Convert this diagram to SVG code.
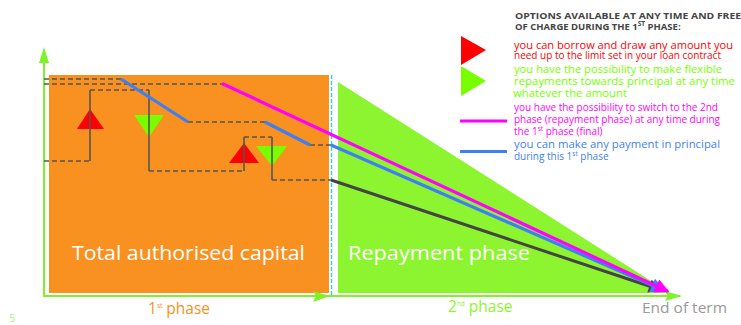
<svg xmlns="http://www.w3.org/2000/svg" width="741" height="325" viewBox="0 0 741 325">
  <style>
    text { font-family: "Open Sans", "Liberation Sans", sans-serif; }
    .dash { fill: none; stroke: #555555; stroke-width: 1.6; stroke-dasharray: 5 3; }
    .solid { fill: none; stroke: #555555; stroke-width: 1.6; }
    .blue { fill: none; stroke: #3F7FF5; stroke-width: 3.2; stroke-linejoin: round; }
    .mag { fill: none; stroke: #FF00FF; stroke-width: 3.2; }
    .dark { fill: none; stroke: #444444; stroke-width: 3; }
    .axis { fill: none; stroke: #7FF22A; stroke-width: 2; }
    .big { font-size: 19.5px; fill: #ffffff; }
    .leg { font-size: 10px; }
    .sup { font-size: 6.5px; }
  </style>
  <defs>
    <marker id="arrMag" viewBox="0 0 10 10" refX="9" refY="5" markerWidth="6" markerHeight="4.5" markerUnits="strokeWidth" orient="auto">
      <path d="M0 0 L10 5 L0 10 Z" fill="#FF00FF"/>
    </marker>
    <marker id="arrBlue" viewBox="0 0 10 10" refX="9" refY="5" markerWidth="6" markerHeight="4.5" markerUnits="strokeWidth" orient="auto">
      <path d="M0 0 L10 5 L0 10 Z" fill="#3F7FF5"/>
    </marker>
    <marker id="arrDark" viewBox="0 0 10 10" refX="9" refY="5" markerWidth="6" markerHeight="4.5" markerUnits="strokeWidth" orient="auto">
      <path d="M0 0 L10 5 L0 10 Z" fill="#444444"/>
    </marker>
  </defs>

  <rect width="741" height="325" fill="#ffffff"/>

  <!-- first phase: authorised capital block -->
  <g id="phase1">
    <rect x="49" y="75" width="280" height="218" fill="#F8911F"/>
    <text class="big" x="72" y="260" textLength="233" lengthAdjust="spacingAndGlyphs">Total authorised capital</text>
  </g>

  <!-- second phase: repayment triangle -->
  <g id="phase2">
    <polygon points="338,82 670,293 338,293" fill="#8DF52F"/>
    <text class="big" x="348" y="260" textLength="182" lengthAdjust="spacingAndGlyphs">Repayment phase</text>
  </g>

  <!-- axes -->
  <g id="axes">
    <polyline class="axis" points="44,62 44,296 680,296"/>
    <polygon points="44,47 39,63 49,63" fill="#7FF22A"/>
    <polygon points="330,296 313,291 316,296 313,302" fill="#7FF22A"/>
    <polygon points="682,296 665,291 668,296 665,301" fill="#7FF22A"/>
    <line x1="331.5" y1="75" x2="331.5" y2="296" stroke="#22D6E8" stroke-width="1.4" stroke-dasharray="4 2"/>
  </g>

  <!-- options inside the first phase -->
  <g id="options">
    <polygon points="90,109 77,129 104,129" fill="#FF0000"/>
    <polygon points="134,115 164,115 149,137" fill="#77FF00"/>
    <polygon points="244,143 229,163 259,163" fill="#FF0000"/>
    <polygon points="256,146 287,146 272,166" fill="#77FF00"/>
  </g>

  <!-- balance paths -->
  <g id="connectors">
    <polyline class="dash" points="44,79 121,79"/>
    <polyline class="dash" points="44,84 222,84"/>
    <polyline class="dash" points="44,161 90,161"/>
    <polyline class="solid" points="90,161 90,90"/>
    <polyline class="dash" points="90,90 149,90"/>
    <polyline class="solid" points="149,90 149,171"/>
    <polyline class="dash" points="149,171 244,171"/>
    <polyline class="solid" points="244,171 244,137"/>
    <polyline class="dash" points="244,137 272,137"/>
    <polyline class="solid" points="272,137 272,180"/>
    <polyline class="dash" points="272,180 331,180"/>
    <polyline class="dash" points="188,122 265,122"/>
    <polyline class="dash" points="310,145 331,145"/>
    <polyline class="blue" points="121,79 188,122"/>
    <polyline class="blue" points="265,122 310,145"/>
    <line class="dark" x1="331" y1="180" x2="661" y2="290" marker-end="url(#arrDark)"/>
    <line class="blue" x1="331" y1="145" x2="664" y2="290.5" marker-end="url(#arrBlue)"/>
    <line class="mag" x1="222" y1="83.5" x2="668" y2="291.5" marker-end="url(#arrMag)"/>
  </g>

  <!-- axis labels -->
  <g id="labels">
    <text x="148" y="314" font-size="15.5" fill="#F8911F">1<tspan class="sup" dy="-6">st</tspan><tspan dy="6"> phase</tspan></text>
    <text x="448" y="312" font-size="15.5" fill="#8DF52F">2<tspan class="sup" dy="-6">nd</tspan><tspan dy="6"> phase</tspan></text>
    <text x="642" y="313" font-size="14.5" fill="#999999" textLength="85" lengthAdjust="spacingAndGlyphs">End of term</text>
    <text x="9" y="322" font-size="11" fill="#A6F27A">5</text>
  </g>

  <!-- legend -->
  <g id="legend">
    <text x="515" y="18.5" font-size="9.5" font-weight="bold" fill="#444444" textLength="226" lengthAdjust="spacingAndGlyphs">OPTIONS AVAILABLE AT ANY TIME AND FREE</text>
    <text x="515" y="29.5" font-size="9.5" font-weight="bold" fill="#444444">OF CHARGE DURING THE 1<tspan class="sup" dy="-4">ST</tspan><tspan dy="4"> PHASE:</tspan></text>

    <polygon points="461,36 486,50 461,65" fill="#FF0000"/>
    <text class="leg" x="514" y="48.5" fill="#FF0000" textLength="219" lengthAdjust="spacingAndGlyphs">you can borrow and draw any amount you</text>
    <text class="leg" x="514" y="58.5" fill="#FF0000">need up to the limit set in your loan contract</text>

    <polygon points="461,66 486,81 461,96" fill="#77FF00"/>
    <text class="leg" x="514" y="73" fill="#77FF00" textLength="208" lengthAdjust="spacingAndGlyphs">you have the possibility to make flexible</text>
    <text class="leg" x="514" y="85" fill="#77FF00" textLength="221" lengthAdjust="spacingAndGlyphs">repayments towards principal at any time</text>
    <text class="leg" x="513" y="96.5" fill="#77FF00" textLength="114" lengthAdjust="spacingAndGlyphs">whatever the amount</text>

    <line x1="460" y1="121" x2="507" y2="121" stroke="#FF00FF" stroke-width="3"/>
    <text class="leg" x="514" y="111" fill="#FF00FF">you have the possibility to switch to the 2nd</text>
    <text class="leg" x="514" y="123" fill="#FF00FF">phase (repayment phase) at any time during</text>
    <text class="leg" x="514" y="135" fill="#FF00FF">the 1<tspan class="sup" dy="-4">st</tspan><tspan dy="4"> phase (final)</tspan></text>

    <line x1="460" y1="151.5" x2="507" y2="151.5" stroke="#3F7FF5" stroke-width="3"/>
    <text class="leg" x="514" y="148" fill="#3F7FF5" textLength="206" lengthAdjust="spacingAndGlyphs">you can make any payment in principal</text>
    <text class="leg" x="514" y="160" fill="#3F7FF5">during this 1<tspan class="sup" dy="-4">st</tspan><tspan dy="4"> phase</tspan></text>
  </g>
</svg>
